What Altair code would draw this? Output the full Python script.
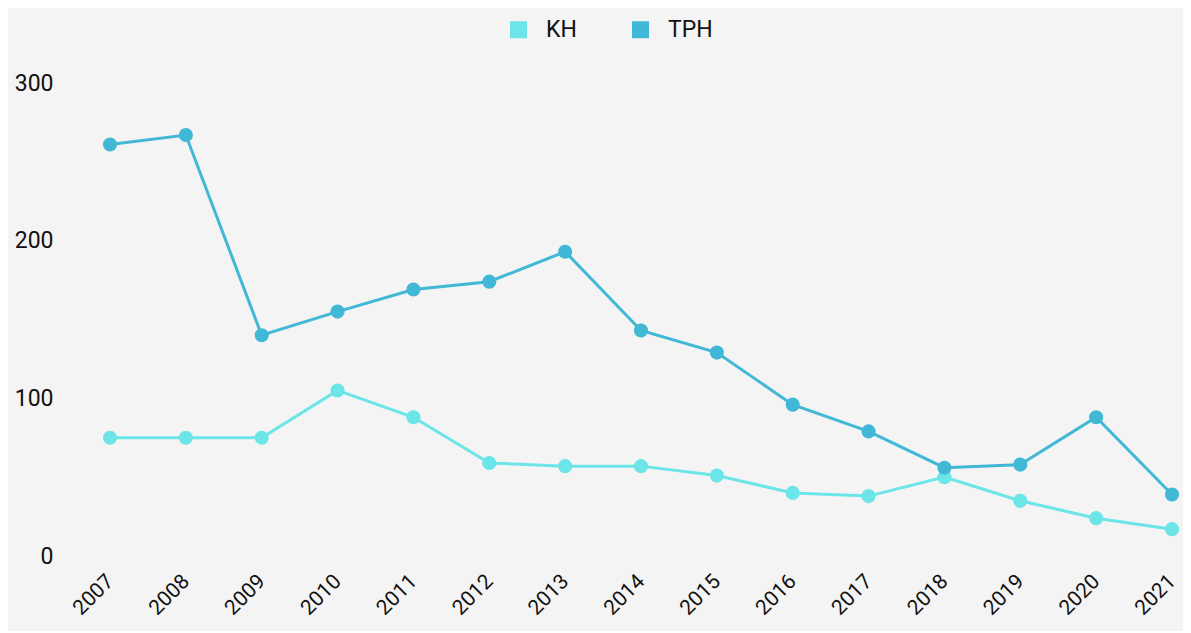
import altair as alt
import pandas as pd

years = [str(y) for y in range(2007, 2022)]
kh = [75, 75, 75, 105, 88, 59, 57, 57, 51, 40, 38, 50, 35, 24, 17]
tph = [261, 267, 140, 155, 169, 174, 193, 143, 129, 96, 79, 56, 58, 88, 39]
series = ["KH", "TPH"]
colors = ["#6ce5e8", "#41b8d5"]

rows = []
for y, a, b in zip(years, kh, tph):
    rows.append({"year": y, "series": "KH", "value": a})
    rows.append({"year": y, "series": "TPH", "value": b})
df = pd.DataFrame(rows)

FONT = "Roboto"

base = alt.Chart(df).encode(
    x=alt.X("year:O", scale=alt.Scale(type="point", padding=0), sort=years,
            axis=alt.Axis(title=None, labelAngle=-45, labelAlign="right", labelBaseline="middle",
                          labelFontSize=21, labelColor="#111", ticks=False, domain=False,
                          labelPadding=22, labelFont=FONT, labelBound=False)),
    y=alt.Y("value:Q", scale=alt.Scale(domain=[0, 300], nice=False),
            axis=alt.Axis(title=None, values=[0, 100, 200, 300], labelFontSize=23,
                          labelColor="#111", ticks=False, domain=False, grid=False,
                          labelPadding=57, labelFont=FONT)),
    color=alt.Color("series:N", scale=alt.Scale(domain=series, range=colors),
                    legend=alt.Legend(title=None, orient="none", legendX=397, legendY=-65,
                                      direction="horizontal", symbolType="square",
                                      symbolSize=289, labelFontSize=23, labelFont=FONT,
                                      labelColor="#111", columnPadding=52, labelOffset=16,
                                      symbolStrokeWidth=0, symbolOpacity=1)),
)

lines = base.mark_line(strokeWidth=3)
points = base.mark_circle(size=200, opacity=1)

chart = (lines + points).properties(
    width=1062, height=473,
    padding={"left": 102, "top": 75, "right": 11, "bottom": 75},
    autosize=alt.AutoSizeParams(type="none"),
    background="#f4f4f4",
).configure_view(stroke=None).configure_axis(grid=False)

chart.save("out.html", embed_options={"renderer": "svg", "actions": False})
